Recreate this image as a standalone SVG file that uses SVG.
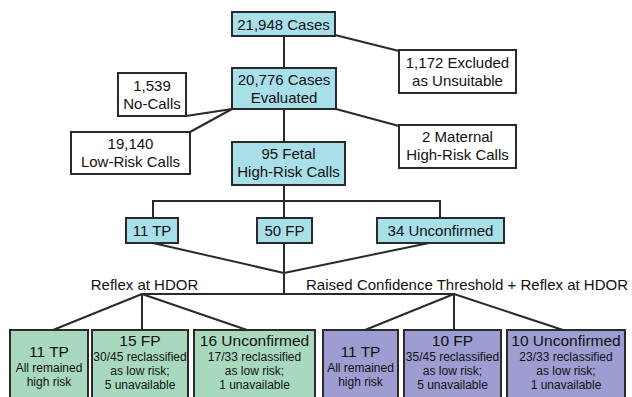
<svg xmlns="http://www.w3.org/2000/svg" width="632" height="397" viewBox="0 0 632 397">
<style>
text{font-family:"Liberation Sans",Arial,sans-serif;fill:#111;text-anchor:middle}
.m{font-size:15px}
.h{font-size:15.5px}
.s{font-size:12px}
.box{stroke:#2a2a2a;stroke-width:2}
.blue{fill:#a8dfe9}
.white{fill:#fff}
.green{fill:#a8d9be}
.purple{fill:#9d9dd1}
.c line{stroke:#2a2a2a;stroke-width:2}
</style>
<rect width="632" height="397" fill="#fff"/>
<g class="c" id="connectors">
<line x1="284" y1="36" x2="284" y2="68"/>
<line x1="335" y1="35" x2="399" y2="51"/>
<line x1="186" y1="116" x2="232" y2="109"/>
<line x1="190" y1="132" x2="232" y2="109"/>
<line x1="336" y1="109" x2="399" y2="126"/>
<line x1="284" y1="109" x2="284" y2="142"/>
<line x1="284" y1="185" x2="284" y2="201"/>
<line x1="152" y1="201" x2="441" y2="201"/>
<line x1="153" y1="201" x2="153" y2="218"/>
<line x1="284" y1="201" x2="284" y2="218"/>
<line x1="440" y1="201" x2="440" y2="218"/>
<line x1="153" y1="243" x2="284" y2="273"/>
<line x1="429" y1="243" x2="284" y2="273"/>
<line x1="284" y1="243" x2="284" y2="294"/>
<line x1="141" y1="294" x2="455" y2="294"/>
<line x1="142" y1="294" x2="53" y2="330"/>
<line x1="142" y1="294" x2="142" y2="330"/>
<line x1="142" y1="294" x2="247" y2="330"/>
<line x1="454" y1="294" x2="365" y2="330"/>
<line x1="454" y1="294" x2="454" y2="330"/>
<line x1="454" y1="294" x2="563" y2="330"/>
</g>
<g id="n-total"><rect class="box blue" x="232" y="12" width="103" height="24"/><text class="m" x="283.5" y="29.5">21,948 Cases</text></g>
<g id="n-excluded"><rect class="box white" x="399" y="50" width="117" height="43"/><text class="m" x="457.5" y="68">1,172 Excluded</text><text class="m" x="457.5" y="86">as Unsuitable</text></g>
<g id="n-evaluated"><rect class="box blue" x="232" y="68" width="104" height="41"/><text class="m" x="284" y="85">20,776 Cases</text><text class="m" x="284" y="103">Evaluated</text></g>
<g id="n-nocalls"><rect class="box white" x="118" y="73" width="68" height="43"/><text class="m" x="152" y="91">1,539</text><text class="m" x="152" y="109">No-Calls</text></g>
<g id="n-lowrisk"><rect class="box white" x="71" y="132" width="119" height="42"/><text class="m" x="130.5" y="149">19,140</text><text class="m" x="130.5" y="167">Low-Risk Calls</text></g>
<g id="n-maternal"><rect class="box white" x="399" y="125" width="117" height="43"/><text class="m" x="457.5" y="142">2 Maternal</text><text class="m" x="457.5" y="160">High-Risk Calls</text></g>
<g id="n-fetal"><rect class="box blue" x="232" y="142" width="113" height="43"/><text class="m" x="288.5" y="159">95 Fetal</text><text class="m" x="288.5" y="177">High-Risk Calls</text></g>
<g id="n-tp"><rect class="box blue" x="126" y="218" width="52" height="25"/><text class="m" x="152" y="236">11 TP</text></g>
<g id="n-fp"><rect class="box blue" x="257" y="218" width="55" height="25"/><text class="m" x="284.5" y="236">50 FP</text></g>
<g id="n-unc"><rect class="box blue" x="377" y="218" width="127" height="25"/><text class="m" x="440.5" y="236">34 Unconfirmed</text></g>
<g id="label-reflex"><text class="m" x="144.5" y="290">Reflex at HDOR</text></g>
<g id="label-raised"><text class="m" x="467" y="290">Raised Confidence Threshold + Reflex at HDOR</text></g>
<g id="g-tp"><rect class="box green" x="10" y="330" width="78" height="72"/><text class="h" x="49" y="357">11 TP</text><text class="s" x="49" y="372">All remained</text><text class="s" x="49" y="386">high risk</text></g>
<g id="g-fp"><rect class="box green" x="92" y="330" width="96" height="72"/><text class="h" x="140" y="346">15 FP</text><text class="s" x="140" y="361">30/45 reclassified</text><text class="s" x="140" y="375">as low risk;</text><text class="s" x="140" y="389">5 unavailable</text></g>
<g id="g-unc"><rect class="box green" x="194" y="330" width="121" height="72"/><text class="h" x="254.5" y="346">16 Unconfirmed</text><text class="s" x="254.5" y="361">17/33 reclassified</text><text class="s" x="254.5" y="375">as low risk;</text><text class="s" x="254.5" y="389">1 unavailable</text></g>
<g id="p-tp"><rect class="box purple" x="323" y="330" width="75" height="72"/><text class="h" x="360.5" y="357">11 TP</text><text class="s" x="360.5" y="372">All remained</text><text class="s" x="360.5" y="386">high risk</text></g>
<g id="p-fp"><rect class="box purple" x="404" y="330" width="97" height="72"/><text class="h" x="452.5" y="346">10 FP</text><text class="s" x="452.5" y="361">35/45 reclassified</text><text class="s" x="452.5" y="375">as low risk;</text><text class="s" x="452.5" y="389">5 unavailable</text></g>
<g id="p-unc"><rect class="box purple" x="507" y="330" width="118" height="72"/><text class="h" x="566" y="346">10 Unconfirmed</text><text class="s" x="566" y="361">23/33 reclassified</text><text class="s" x="566" y="375">as low risk;</text><text class="s" x="566" y="389">1 unavailable</text></g>
</svg>
